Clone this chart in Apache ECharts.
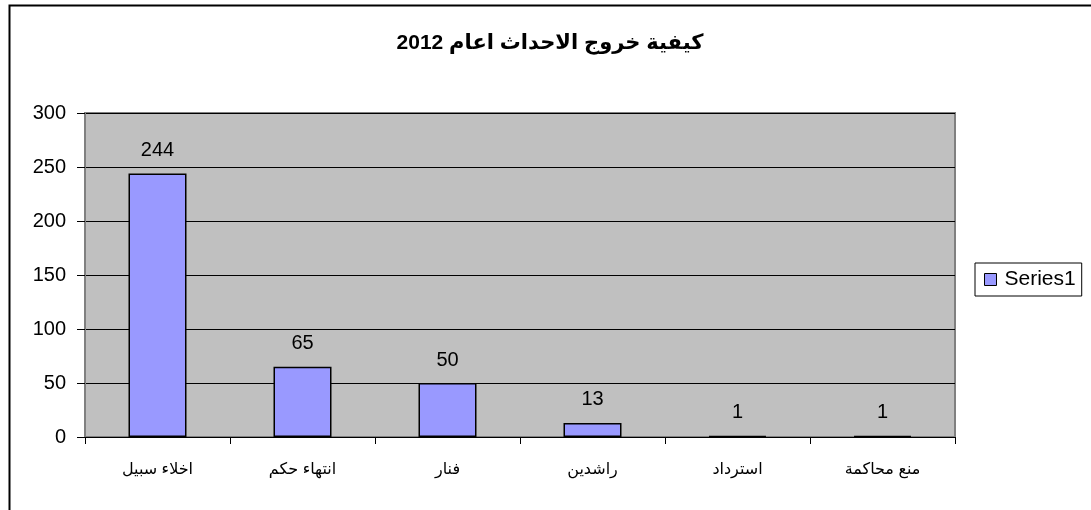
<!DOCTYPE html>
<html>
<head>
<meta charset="utf-8">
<script src="https://cdn.jsdelivr.net/npm/echarts@6/dist/echarts.min.js"></script>
<style>
html,body{margin:0;padding:0;background:#fff;}
#c{width:1091px;height:510px;}
</style>
</head>
<body>
<div id="c"></div>
<script>
var titleText = 'كيفية خروج الاحداث اعام 2012';
var categories = ['اخلاء سبيل', 'انتهاء حكم', 'فنار', 'راشدين', 'استرداد', 'منع محاكمة'];
var values = [244, 65, 50, 13, 1, 1];
var seriesName = 'Series1';
var yTicks = {min: 0, max: 300, interval: 50};

var FONT = '"Liberation Sans", Arial, "DejaVu Sans", sans-serif';
var chart = echarts.init(document.getElementById('c'));
chart.setOption({
  animation: false,
  backgroundColor: '#fff',
  textStyle: {fontFamily: FONT},
  graphic: [{
    type: 'rect', left: 7, top: 3,
    shape: {width: 1100, height: 530},
    style: {fill: 'none', stroke: '#000', lineWidth: 2},
    silent: true, z: 100
  }],
  title: {
    text: titleText,
    left: 545, top: 28, textAlign: 'center',
    textStyle: {fontFamily: FONT, fontSize: 21, fontWeight: 'bold', color: '#000'}
  },
  legend: {
    data: [seriesName],
    left: 975, top: 263,
    orient: 'vertical',
    borderColor: '#000', borderWidth: 1,
    padding: [6, 6, 6, 9],
    itemWidth: 12, itemHeight: 12, itemGap: 4,
    icon: 'rect',
    itemStyle: {borderColor: '#000', borderWidth: 1},
    textStyle: {fontFamily: FONT, fontSize: 21, color: '#000', padding: [0, 0, 0, 3]}
  },
  grid: {
    left: 85, top: 113, width: 870, height: 324,
    show: true, backgroundColor: '#C0C0C0', borderColor: '#808080', borderWidth: 2
  },
  xAxis: {
    type: 'category',
    data: categories,
    axisLine: {show: true, lineStyle: {color: '#000', width: 1}},
    axisTick: {show: true, length: 7, lineStyle: {color: '#000'}},
    axisLabel: {fontFamily: FONT, fontSize: 16, color: '#000', margin: 25},
    splitLine: {show: false}
  },
  yAxis: {
    type: 'value',
    min: yTicks.min, max: yTicks.max, interval: yTicks.interval,
    axisLine: {show: true, lineStyle: {color: '#808080', width: 2}},
    axisTick: {show: true, length: 8, lineStyle: {color: '#000'}},
    axisLabel: {fontFamily: FONT, fontSize: 20, color: '#000', margin: 19},
    splitLine: {show: true, lineStyle: {color: '#000', width: 1}}
  },
  series: [{
    name: seriesName,
    type: 'bar',
    data: values,
    barWidth: '40%',
    itemStyle: {color: '#9999FF', borderColor: '#000', borderWidth: 1.5},
    label: {
      show: true, position: 'top', distance: 13,
      fontFamily: FONT, fontSize: 20, color: '#000'
    }
  }]
});
</script>
</body>
</html>
